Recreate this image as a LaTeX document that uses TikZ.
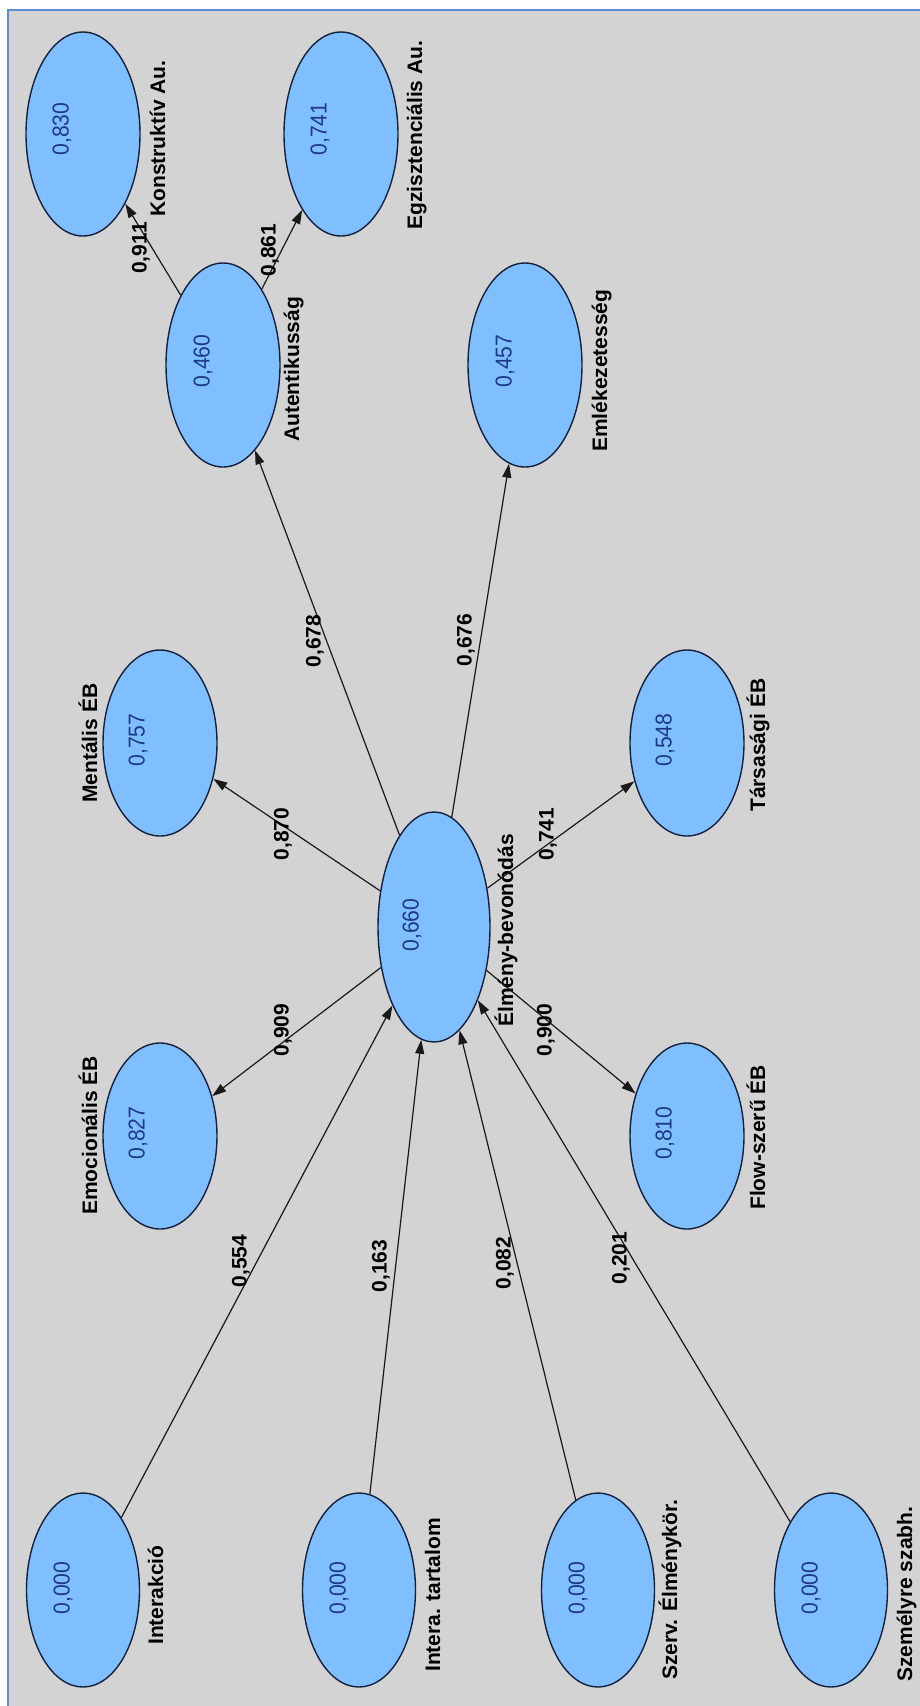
\documentclass[tikz,border=0pt]{standalone}
\usepackage{fontspec}
\setmainfont{Liberation Sans}
\usetikzlibrary{shapes.geometric,arrows.meta}
\definecolor{panelgray}{HTML}{D3D3D3}
\definecolor{panelblue}{HTML}{5B8DD6}
\definecolor{lvfill}{HTML}{80BFFF}
\definecolor{lvedge}{HTML}{14213D}
\definecolor{valblue}{HTML}{1E3A80}
% slightly condensed figures for the values inside the ellipses
\newcommand{\narrowval}[1]{\scalebox{0.92}[1]{#1}}
\begin{document}
\begin{tikzpicture}[x=1pt,y=-1pt,
  lv/.style={ellipse, draw=lvedge, line width=1.4pt, fill=lvfill, inner sep=0pt},
  lvtop/.style={lv, minimum width=114pt, minimum height=204pt},
  lvmid/.style={lv, minimum width=114pt, minimum height=186pt},
  lvlow/.style={lv, minimum width=113pt, minimum height=194pt},
  lvcore/.style={lv, minimum width=112pt, minimum height=230pt},
  val/.style={rotate=90, text=valblue, font=\fontsize{23}{26}\selectfont, inner sep=0pt},
  lvname/.style={rotate=90, anchor=base west, font=\fontsize{21}{24}\selectfont\bfseries, inner sep=0pt},
  coef/.style={rotate=90, font=\fontsize{21}{24}\selectfont\bfseries, inner sep=0pt},
  link/.style={draw=black!90, line width=1.2pt, -{Triangle[length=14pt,width=9pt]}}
]
% canvas and panel
\useasboundingbox (0,0) rectangle (920,1706);
\fill[white] (0,0) rectangle (920,1706);
\fill[panelgray] (8,10) rectangle (920,1706);
\draw[panelblue, line width=2pt] (8,1706) -- (8,10) -- (920,10);

% latent variables
\node[lvtop]  (kon) at (83,134) {};
\node[lvtop]  (egz) at (341,134) {};
\node[lvtop]  (aut) at (223,365) {};
\node[lvtop]  (eml) at (525,365) {};
\node[lvmid]  (men) at (160,743) {};
\node[lvmid]  (tar) at (687,743) {};
\node[lvcore] (elm) at (434,927) {};
\node[lvmid]  (emo) at (160,1136) {};
\node[lvmid]  (flo) at (687,1136) {};
\node[lvlow]  (int) at (83,1590) {};
\node[lvlow]  (itt) at (359,1590) {};
\node[lvlow]  (szv) at (598,1590) {};
\node[lvlow]  (szm) at (831,1590) {};

% R-squared values
\node[val] (konv) at (62,129) {\narrowval{0,830}};
\node[val] (egzv) at (320,129) {\narrowval{0,741}};
\node[val] (autv) at (203,361) {\narrowval{0,460}};
\node[val] (emlv) at (505,361) {\narrowval{0,457}};
\node[val] (menv) at (138,740) {\narrowval{0,757}};
\node[val] (tarv) at (665,740) {\narrowval{0,548}};
\node[val] (elmv) at (412,925) {\narrowval{0,660}};
\node[val] (emov) at (138,1133) {\narrowval{0,827}};
\node[val] (flov) at (665,1133) {\narrowval{0,810}};
\node[val] (intv) at (63,1588) {\narrowval{0,000}};
\node[val] (ittv) at (339,1588) {\narrowval{0,000}};
\node[val] (szvv) at (578,1588) {\narrowval{0,000}};
\node[val] (szmv) at (811,1588) {\narrowval{0,000}};

% variable names
\node[lvname] (konl) at (165,217) {Konstruktív Au.};
\node[lvname] (egzl) at (422,230) {Egzisztenciális Au.};
\node[lvname] (autl) at (299,442) {Autentikusság};
\node[lvname] (emll) at (607,452) {Emlékezetesség};
\node[lvname] (menl) at (97,803) {Mentális ÉB};
\node[lvname] (tarl) at (765,812) {Társasági ÉB};
\node[lvname] (elml) at (513,1027) {Élmény-bevonódás};
\node[lvname] (emol) at (97,1215) {Emocionális ÉB};
\node[lvname] (flol) at (765,1210) {Flow-szerű ÉB};
\node[lvname] (intl) at (163,1645) {Interakció};
\node[lvname] (ittl) at (440,1672) {Intera. tartalom};
\node[lvname] (szvl) at (677,1680) {Szerv. Élménykör.};
\node[lvname] (szml) at (912,1682) {Személyre szabh.};

% paths
\draw[link] (aut) -- (kon);
\draw[link] (aut) -- (egz);
\draw[link] (elm) -- (aut);
\draw[link] (elm) -- (eml);
\draw[link] (elm) -- (men);
\draw[link] (elm) -- (tar);
\draw[link] (elm) -- (emo);
\draw[link] (elm) -- (flo);
\draw[link] (int) -- (elm);
\draw[link] (itt) -- (elm);
\draw[link] (szv) -- (elm);
\draw[link] (szm) -- (elm);

% path coefficients
\node[coef] (c911) at (141,248) {0,911};
\node[coef] (c861) at (270,250) {0,861};
\node[coef] (c678) at (315,641) {0,678};
\node[coef] (c676) at (466,640) {0,676};
\node[coef] (c870) at (283,834) {0,870};
\node[coef] (c909) at (283,1030) {0,909};
\node[coef] (c741) at (548,834) {0,741};
\node[coef] (c900) at (546,1030) {0,900};
\node[coef] (c554) at (241,1261) {0,554};
\node[coef] (c163) at (381,1266) {0,163};
\node[coef] (c082) at (505,1263) {0,082};
\node[coef] (c201) at (621,1258) {0,201};
\end{tikzpicture}
\end{document}
